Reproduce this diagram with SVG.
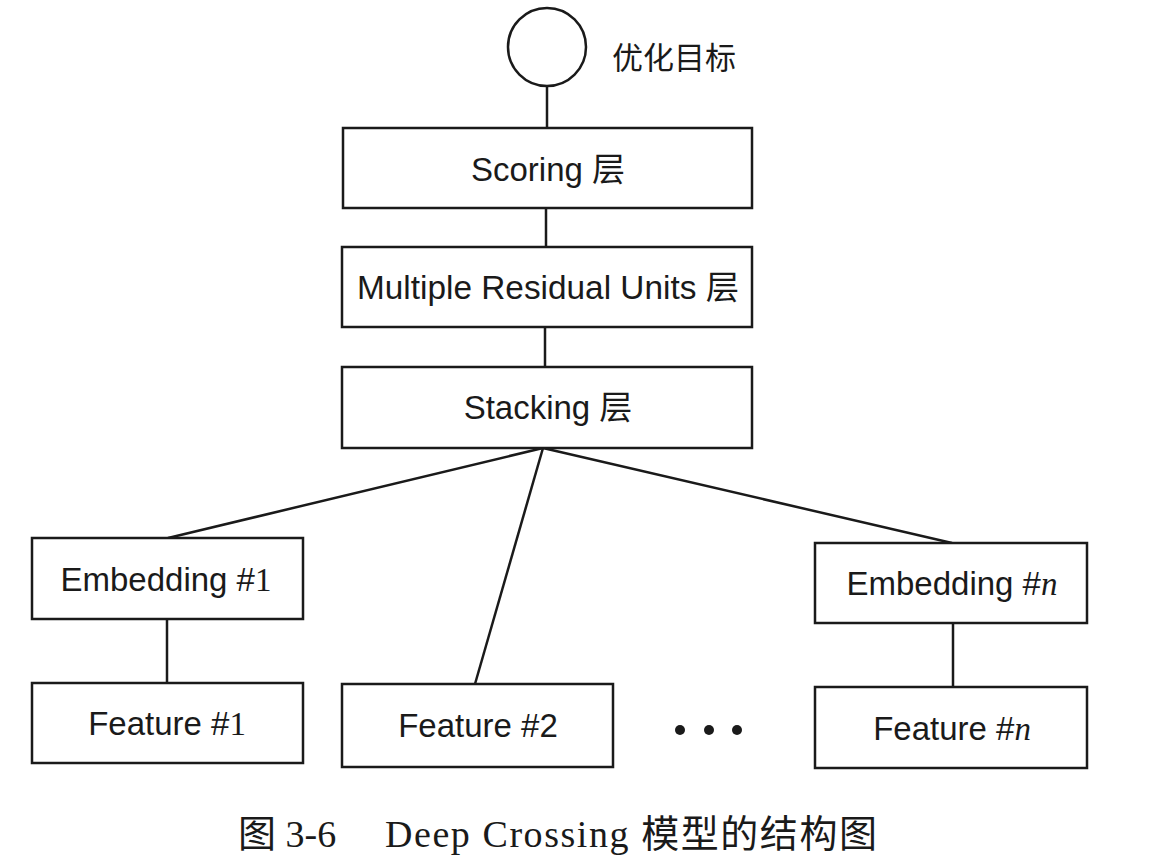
<svg xmlns="http://www.w3.org/2000/svg" width="1149" height="858" viewBox="0 0 1149 858">
<style>
.box{fill:#fff;stroke:#1a1a1a;stroke-width:2.5}
.ln{stroke:#1a1a1a;stroke-width:2.5;fill:none}
.t{font-family:"Liberation Sans","Noto Sans CJK SC",sans-serif;font-size:33px;fill:#1a1a1a;text-anchor:middle}
.s{font-family:"Liberation Serif",serif}
.cap{font-family:"Liberation Serif","Noto Sans CJK SC",serif;font-size:38px;fill:#1a1a1a}
</style>
<rect width="1149" height="858" fill="#fff"/>
<g id="connectors">
<line class="ln" x1="547" y1="86" x2="547" y2="128"/>
<line class="ln" x1="546" y1="208" x2="546" y2="247"/>
<line class="ln" x1="545" y1="327" x2="545" y2="367"/>
<line class="ln" x1="543" y1="448" x2="168" y2="538"/>
<line class="ln" x1="543" y1="448" x2="475" y2="684"/>
<line class="ln" x1="543" y1="448" x2="952" y2="543"/>
<line class="ln" x1="167" y1="619" x2="167" y2="683"/>
<line class="ln" x1="953" y1="623" x2="953" y2="687"/>
</g>
<g id="objective">
<circle cx="547" cy="47" r="39" fill="#fff" stroke="#1a1a1a" stroke-width="2.5"/>
<text x="612" y="69" font-family="Noto Sans CJK SC, sans-serif" font-size="31" fill="#1a1a1a">优化目标</text>
</g>
<g id="scoring">
<rect class="box" x="343" y="128" width="409" height="80"/>
<text class="t" x="548" y="181">Scoring 层</text>
</g>
<g id="residual">
<rect class="box" x="342" y="247" width="410" height="80"/>
<text class="t" x="548" y="299" textLength="382" lengthAdjust="spacingAndGlyphs">Multiple Residual Units 层</text>
</g>
<g id="stacking">
<rect class="box" x="342" y="367" width="410" height="81"/>
<text class="t" x="548" y="419">Stacking 层</text>
</g>
<g id="emb1">
<rect class="box" x="32" y="538" width="271" height="81"/>
<text class="t" x="166" y="591">Embedding #<tspan class="s">1</tspan></text>
</g>
<g id="embn">
<rect class="box" x="815" y="543" width="272" height="80"/>
<text class="t" x="952" y="595">Embedding #<tspan class="s" font-style="italic">n</tspan></text>
</g>
<g id="feat1">
<rect class="box" x="32" y="683" width="271" height="80"/>
<text class="t" x="167" y="735">Feature #<tspan class="s">1</tspan></text>
</g>
<g id="feat2">
<rect class="box" x="342" y="684" width="271" height="83"/>
<text class="t" x="478" y="737">Feature #2</text>
</g>
<g id="featn">
<rect class="box" x="815" y="687" width="272" height="81"/>
<text class="t" x="952" y="740">Feature #<tspan class="s" font-style="italic">n</tspan></text>
</g>
<g id="dots" fill="#1a1a1a">
<circle cx="680" cy="730" r="5"/>
<circle cx="709" cy="730" r="5"/>
<circle cx="737" cy="730" r="5"/>
</g>
<g id="caption">
<text class="cap" x="238" y="847">图 3-6</text>
<text class="cap" x="385" y="847" textLength="492" lengthAdjust="spacing">Deep Crossing 模型的结构图</text>
</g>
</svg>
